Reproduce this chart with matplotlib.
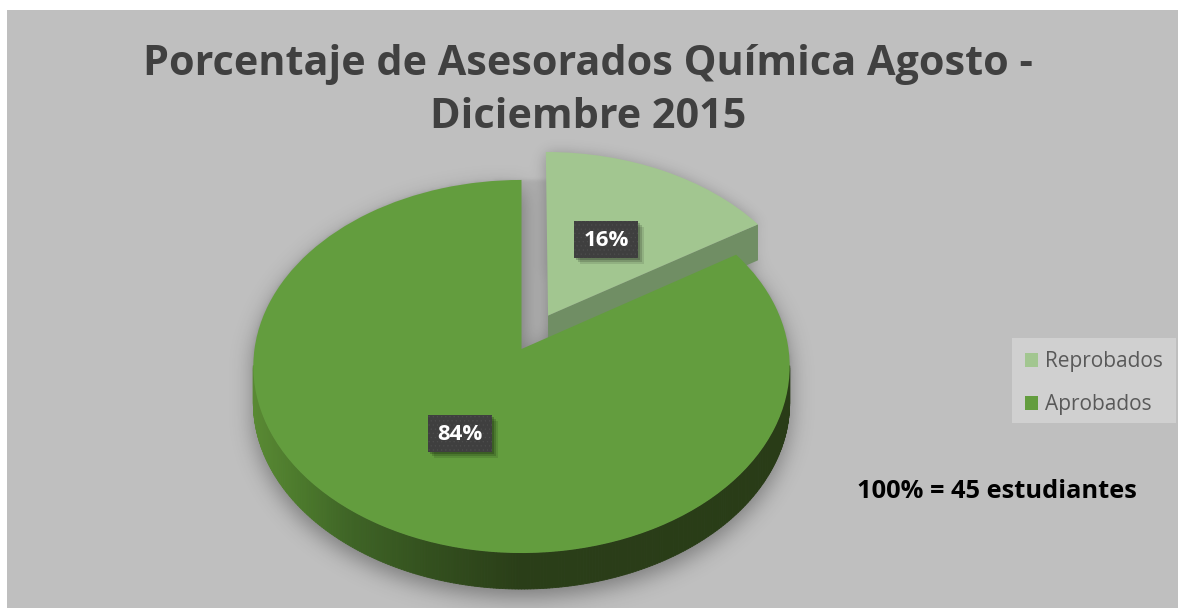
import numpy as np
import matplotlib
matplotlib.use("Agg")
import matplotlib.pyplot as plt
from matplotlib.collections import PolyCollection
from matplotlib.patches import Rectangle, Patch
from matplotlib.path import Path
from matplotlib.transforms import Transform

# Data
categories = ["Reprobados", "Aprobados"]
values = [16, 84]
title_text = "Porcentaje de Asesorados Química Agosto -\nDiciembre 2015"
note_text = "100% = 45 estudiantes"

W, H = 1178, 611
BG = "#bfbfbf"
plt.rcParams["font.family"] = ["Open Sans", "DejaVu Sans"]
plt.rcParams["hatch.linewidth"] = 0.4

fig = plt.figure(figsize=(W / 100, H / 100), dpi=100, facecolor="white")
ax = fig.add_axes([0, 0, 1, 1])

# perspective of the tilted pie, from unit-circle coordinates to pixels
CX, CY, SX, SY, PERSP = 521.5, 349.0, 267.0, 184.9, 0.0938
DEPTH = 36.0


def warp(xy):
    xy = np.asarray(xy, dtype=float)
    d = 1 + PERSP * xy[..., 1]
    return np.stack([CX + SX * xy[..., 0] / d, CY - SY * xy[..., 1] / d], axis=-1)


class Tilt(Transform):
    input_dims = 2
    output_dims = 2
    has_inverse = False
    is_affine = False

    def transform_non_affine(self, values):
        return warp(values)


wedges, _ = ax.pie(values, colors=["#a2c690", "#639d3e"], explode=[0.21, 0],
                   startangle=90, counterclock=False, radius=1, frame=False)
ax.set_aspect("auto")
ax.set_xlim(0, W)
ax.set_ylim(H, 0)
ax.axis("off")

panel = Rectangle((7, 10), W - 7, 598, fc=BG, ec="none", zorder=0)
ax.add_patch(panel)


def outline(w, n=400, apex=True):
    th = np.radians(np.linspace(w.theta1, w.theta2, n))
    pts = np.column_stack([w.center[0] + w.r * np.cos(th), w.center[1] + w.r * np.sin(th)])
    if apex:
        pts = np.vstack([pts, w.center])
    return warp(pts)


# soft shadows raster
step = 2
gx, gy = np.meshgrid(np.arange(0, W, step) + step / 2, np.arange(0, H, step) + step / 2)
grid = np.column_stack([gx.ravel(), gy.ravel()])


def blur(img, sigma):
    pad = 40
    big = np.pad(img, pad)
    fy = np.fft.fftfreq(big.shape[0])[:, None]
    fx = np.fft.rfftfreq(big.shape[1])[None, :]
    g = np.exp(-2 * (np.pi * sigma / step) ** 2 * (fx ** 2 + fy ** 2))
    return np.fft.irfft2(np.fft.rfft2(big) * g, s=big.shape)[pad:-pad, pad:-pad]


def shadow_mask(poly, drop):
    m = np.zeros(gx.shape, bool)
    for s in (0, DEPTH / 2, DEPTH):
        m |= Path(poly + [0, s + drop]).contains_points(grid).reshape(gx.shape)
    return m.astype(float)


th_full = np.radians(np.linspace(0, 360, 400))
full_disc = warp(np.column_stack([np.cos(th_full), np.sin(th_full)]))
a_main = blur(shadow_mask(outline(wedges[1]), 9), 11) * 0.36
a_slice = blur(shadow_mask(outline(wedges[0]), 2), 7) * 0.26
a_disc = blur(Path(full_disc).contains_points(grid).reshape(gx.shape).astype(float), 1.5) * 0.08
alpha = 1 - (1 - a_main) * (1 - a_slice) * (1 - a_disc)
rgba = np.zeros(gx.shape + (4,))
rgba[..., 3] = np.clip(alpha, 0, 1)
im = ax.imshow(rgba, extent=(0, W, H, 0), zorder=1, interpolation="bilinear", aspect="auto")
im.set_clip_path(panel)
ax.set_xlim(0, W)
ax.set_ylim(H, 0)

# exploded slice: front cut face
lt = outline(wedges[0], 2, apex=False)[0]
lc = warp(np.array(wedges[0].center))
ax.add_patch(plt.Polygon([lc, lt, lt + [0, DEPTH], lc + [0, DEPTH]], closed=True,
                         fc="#708e64", ec="none", zorder=2))

# side wall of the large slice, shaded along its arc
arc = outline(wedges[1], 500, apex=False)
arc = arc[arc[:, 1] > CY + 16]
quads = [[arc[i], arc[i + 1], arc[i + 1] + [0, DEPTH], arc[i] + [0, DEPTH]] for i in range(len(arc) - 1)]
mx = 0.5 * (arc[:-1, 0] + arc[1:, 0])
stops = [252, 300, 350, 430, 520, 800]
cols = np.array([[0x5a, 0x8a, 0x34], [0x4c, 0x7a, 0x2c], [0x3f, 0x65, 0x26],
                 [0x33, 0x50, 0x1e], [0x2a, 0x3e, 0x18], [0x29, 0x3c, 0x17]]) / 255
shade = np.column_stack([np.interp(mx, stops, cols[:, i]) for i in range(3)])
ax.add_collection(PolyCollection(quads, facecolors=shade, edgecolors=shade, linewidths=0.6, zorder=3))

# top faces are the pie wedges themselves
tilt = Tilt()
wedges[0].set(transform=tilt + ax.transData, zorder=2.5, clip_on=False, edgecolor="none")
wedges[1].set(transform=tilt + ax.transData, zorder=4, clip_on=False, edgecolor="none")


# value labels
def tag(x0, y0, txt):
    w_, h_ = 64, 37
    for k, a in zip((6, 4, 2), (0.10, 0.15, 0.2)):
        ax.add_patch(Rectangle((x0 + k, y0 + k), w_, h_, fc="black", ec="none", alpha=a, zorder=5))
    ax.add_patch(Rectangle((x0, y0), w_, h_, fc="#3f3f3f", ec="#4d4d4d", lw=0, hatch="....", zorder=6))
    ax.text(x0 + w_ / 2, y0 + h_ / 2 + 1, txt, color="white", fontsize=16, fontweight="bold",
            ha="center", va="center", zorder=7)


tag(574, 221, f"{values[0]}%")
tag(428, 415, f"{values[1]}%")

# title and note
ax.text(588, 91, title_text, ha="center", va="center", fontsize=29.8, fontweight="bold",
        color="#404040", linespacing=1.38, zorder=8)
ax.text(997, 491, note_text, ha="center", va="center", fontsize=18.3, fontweight="bold",
        color="black", zorder=8)

# legend
ax.add_patch(Rectangle((1012, 338), 164, 85, fc="#d0d0d0", ec="none", zorder=7.5))
handles = [Patch(fc=c, ec="none") for c in ("#a2c690", "#639d3e")]
leg = ax.legend(handles, categories, loc="upper left", bbox_to_anchor=(1012, 339),
                bbox_transform=ax.transData, frameon=False, fontsize=15, labelcolor="#595959",
                borderaxespad=0, borderpad=0.6, handlelength=0.67, handleheight=0.67,
                handletextpad=0.3, labelspacing=1.05)
leg.set_zorder(8)

fig.savefig("out.png", dpi=100, facecolor="white")
